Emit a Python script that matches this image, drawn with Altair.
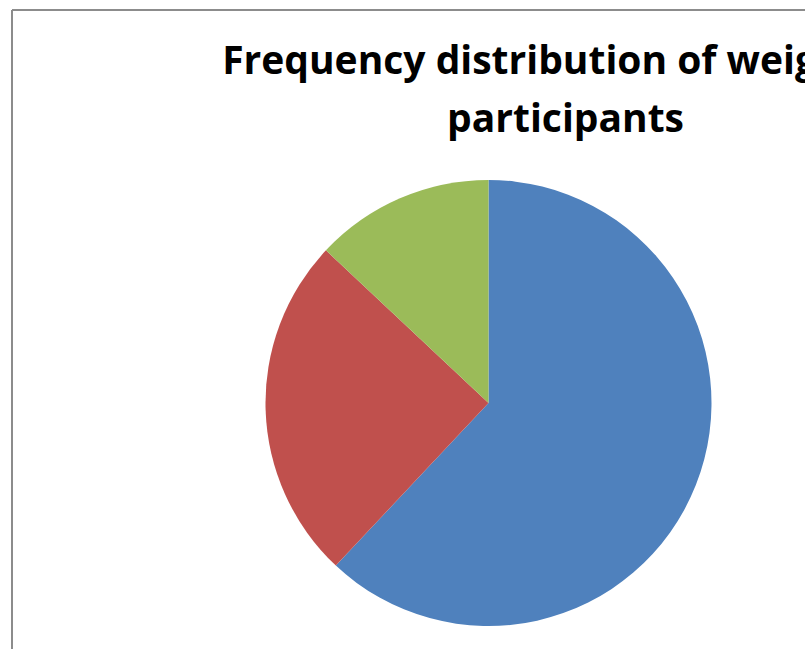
import altair as alt
import pandas as pd

# Weight groups of the participants and their frequencies
categories = ["Normal weight", "Overweight", "Obese"]
frequencies = [62, 25, 13]
slice_colors = ["#4F81BD", "#C0504D", "#9BBB59"]

title_lines = ["Frequency distribution of weight of", "participants"]

df = pd.DataFrame({
    "category": categories,
    "frequency": frequencies,
    "order": list(range(len(categories))),
})

W, H = 793, 639

pie = alt.Chart(df).mark_arc(stroke="transparent").encode(
    theta=alt.Theta("frequency:Q", stack=True),
    order=alt.Order("order:Q"),
    color=alt.Color(
        "category:N",
        scale=alt.Scale(domain=categories, range=slice_colors),
        legend=None,
    ),
    x=alt.value(476.5),
    y=alt.value(393),
    radius=alt.value(223),
)

# Chart-area frame (left and top edges are the ones inside the page)
frame_left = alt.Chart(df).mark_rule(color="#8c8c8c", strokeWidth=2).encode(
    x=alt.value(0), y=alt.value(0), y2=alt.value(H)
)
frame_top = alt.Chart(df).mark_rule(color="#8c8c8c", strokeWidth=2).encode(
    x=alt.value(0), x2=alt.value(W), y=alt.value(0)
)

chart = alt.layer(frame_left, frame_top, pie).properties(
    width=W,
    height=H,
    autosize=alt.AutoSizeParams(type="none"),
    padding={"left": 12, "top": 10, "right": 0, "bottom": 0},
    background="white",
    title=alt.TitleParams(
        text=title_lines,
        font="Open Sans",
        fontSize=39,
        fontWeight="bold",
        color="black",
        lineHeight=58,
        anchor="middle",
        frame="group",
        baseline="alphabetic",
        offset=0,
        dx=157,
        dy=162,
    ),
).configure_view(stroke="transparent")

chart.save("out.html", embed_options={"renderer": "svg", "actions": False})
